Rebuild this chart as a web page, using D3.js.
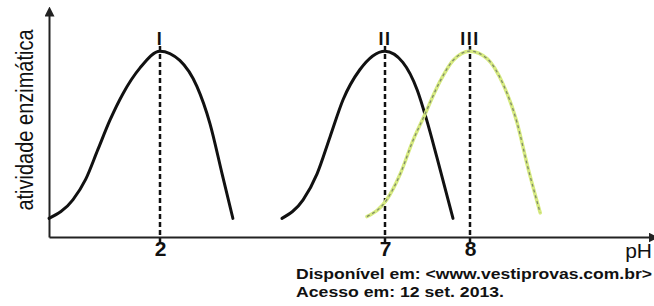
<!DOCTYPE html>
<html>
<head>
<meta charset="utf-8">
<script src="https://cdn.jsdelivr.net/npm/d3@7"></script>
<style>
  body { margin: 0; background: #fff; }
  svg { display: block; }
  text { font-family: "Liberation Sans", Arial, sans-serif; fill: #111; }
</style>
</head>
<body>
<div id="chart"></div>
<script>
// pH (the axis is schematic, so the scale is piecewise)
const axisBreaks = [0, 2, 7, 8, 10];
const tickValues = [2, 7, 8];
const peakLabels = ["I", "II", "III"];
const peakPH = [2, 7, 8];

// enzyme I
const phI = [0.0, 0.43, 0.66, 0.88, 1.1, 1.33, 1.64, 2.0, 2.44, 2.82, 3.11, 3.38, 3.62];
const actI = [0.1, 0.2, 0.31, 0.47, 0.63, 0.77, 0.91, 1.0, 0.95, 0.81, 0.61, 0.34, 0.1];
// enzyme II
const phII = [4.71, 5.18, 5.49, 5.78, 6.07, 6.44, 7.0, 7.21, 7.38, 7.49, 7.61, 7.8];
const actII = [0.1, 0.2, 0.34, 0.54, 0.74, 0.9, 1.0, 0.94, 0.79, 0.63, 0.43, 0.1];
// enzyme III
const phIII = [6.6, 7.02, 7.18, 7.33, 7.45, 7.65, 7.8, 8.0, 8.19, 8.37, 8.52, 8.64, 8.78];
const actIII = [0.11, 0.2, 0.34, 0.52, 0.64, 0.84, 0.95, 1.0, 0.96, 0.82, 0.62, 0.38, 0.13];

const width = 654,
  height = 306;

const svg = d3
  .select("#chart")
  .append("svg")
  .attr("width", width)
  .attr("height", height);

svg.append("rect").attr("width", width).attr("height", height).attr("fill", "#fff");

const x = d3.scaleLinear().domain(axisBreaks).range([49, 160, 385, 470, 650]);
const y = d3.scaleLinear().domain([0, 1.2]).range([237, 14]);

// arrow head for the axes
svg
  .append("defs")
  .append("marker")
  .attr("id", "arrow")
  .attr("viewBox", "0 0 10 10")
  .attr("refX", 2)
  .attr("refY", 5)
  .attr("markerWidth", 5)
  .attr("markerHeight", 5)
  .attr("markerUnits", "strokeWidth")
  .attr("orient", "auto")
  .append("path")
  .attr("d", "M0,0L10,5L0,10Z")
  .attr("fill", "#222");

// dashed guides at the optimum pH
svg
  .selectAll(".guide")
  .data(peakPH)
  .enter()
  .append("line")
  .attr("class", "guide")
  .attr("x1", (d) => x(d))
  .attr("x2", (d) => x(d))
  .attr("y1", 46)
  .attr("y2", 243)
  .attr("stroke", "#111")
  .attr("stroke-width", 2.5)
  .attr("stroke-dasharray", "5,3");

svg
  .selectAll(".peak-label")
  .data(peakPH)
  .enter()
  .append("text")
  .attr("class", "peak-label")
  .attr("x", (d) => x(d))
  .attr("y", 45)
  .attr("text-anchor", "middle")
  .attr("font-size", 18)
  .attr("font-weight", "bold")
  .attr("letter-spacing", 1.5)
  .text((d, i) => peakLabels[i]);

// axes
const xAxis = svg
  .append("g")
  .attr("transform", "translate(0," + y(0) + ")")
  .call(d3.axisBottom(x).tickValues(tickValues).tickSize(0).tickPadding(4).tickFormat(d3.format("d")));
xAxis.select(".domain").attr("stroke", "#222").attr("stroke-width", 2).attr("marker-end", "url(#arrow)");
xAxis
  .selectAll("text")
  .attr("font-size", 21)
  .attr("font-weight", "bold")
  .attr("font-family", "Liberation Sans, Arial, sans-serif")
  .attr("fill", "#111");

const yAxis = svg
  .append("g")
  .attr("transform", "translate(" + x(0) + ",0)")
  .call(d3.axisLeft(y).tickValues([]).tickSizeOuter(0));
yAxis.select(".domain").attr("stroke", "#222").attr("stroke-width", 2).attr("marker-end", "url(#arrow)");

// curves
const line = d3
  .line()
  .x((d) => x(d[0]))
  .y((d) => y(d[1]))
  .curve(d3.curveMonotoneX);

const zip = (a, b) => a.map((v, i) => [v, b[i]]);

[zip(phI, actI), zip(phII, actII)].forEach((pts) => {
  svg
    .append("path")
    .datum(pts)
    .attr("d", line)
    .attr("fill", "none")
    .attr("stroke", "#111")
    .attr("stroke-width", 3)
    .attr("stroke-linecap", "round");
});

const curveIII = zip(phIII, actIII);
svg
  .append("path")
  .datum(curveIII)
  .attr("d", line)
  .attr("fill", "none")
  .attr("stroke", "#d6ea80")
  .attr("stroke-width", 3.5)
  .attr("stroke-linecap", "round");
svg
  .append("path")
  .datum(curveIII)
  .attr("d", line)
  .attr("fill", "none")
  .attr("stroke", "#7f8a6a")
  .attr("stroke-width", 1.3)
  .attr("stroke-dasharray", "3,3");

// axis titles
svg
  .append("text")
  .attr("transform", "translate(33,120) scale(1.15,1) rotate(-90)")
  .attr("text-anchor", "middle")
  .attr("font-size", 20)
  .text("atividade enzimática");

svg
  .append("text")
  .attr("x", 652)
  .attr("y", 258)
  .attr("text-anchor", "end")
  .attr("font-size", 21)
  .text("pH");

// source
svg
  .append("text")
  .attr("x", 296)
  .attr("y", 279)
  .attr("font-size", 15)
  .attr("font-weight", "bold")
  .attr("textLength", 356)
  .attr("lengthAdjust", "spacingAndGlyphs")
  .text("Disponível em: <www.vestiprovas.com.br>");

svg
  .append("text")
  .attr("x", 296)
  .attr("y", 297)
  .attr("font-size", 15)
  .attr("font-weight", "bold")
  .attr("textLength", 208)
  .attr("lengthAdjust", "spacingAndGlyphs")
  .text("Acesso em: 12 set. 2013.");
</script>
</body>
</html>
